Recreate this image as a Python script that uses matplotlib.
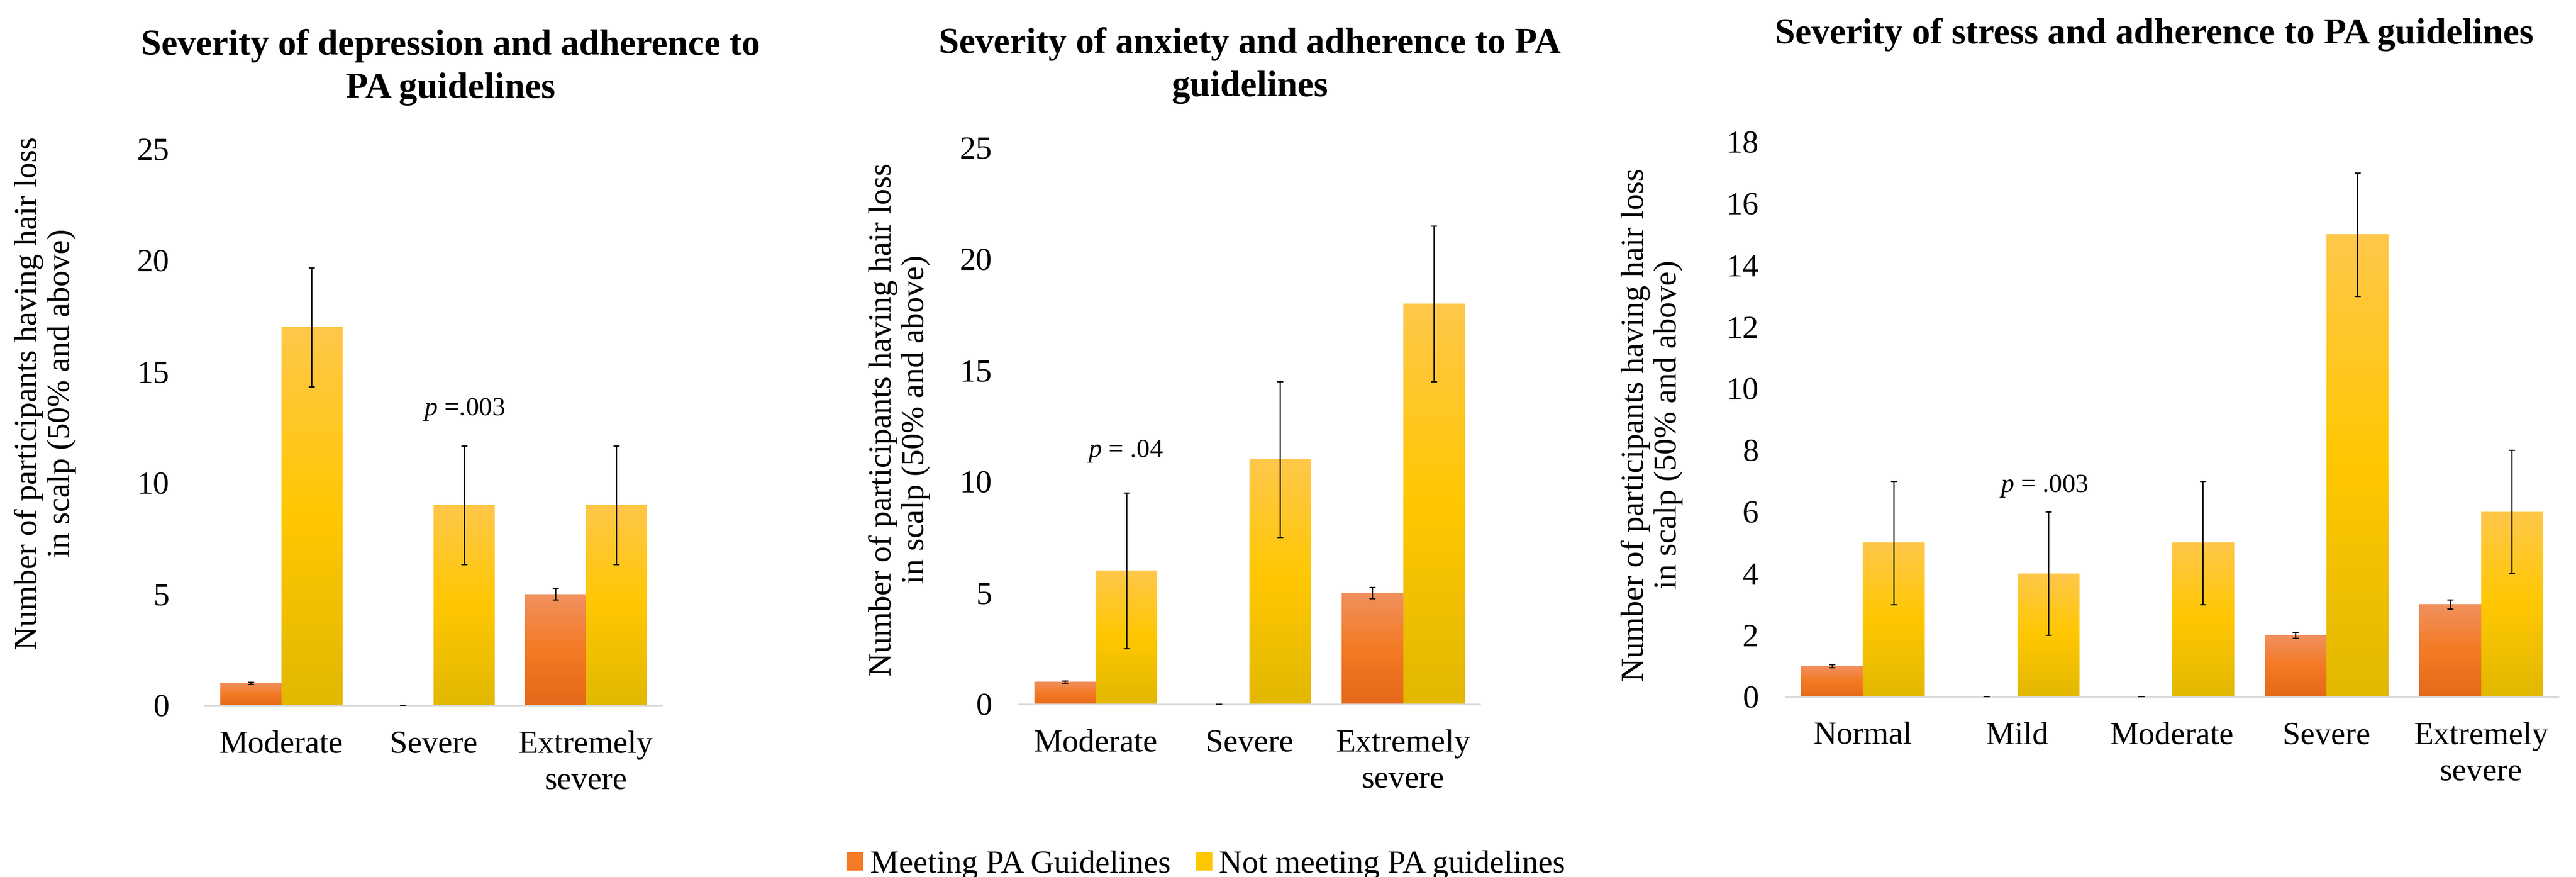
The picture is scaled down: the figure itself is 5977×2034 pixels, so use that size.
import numpy as np
import matplotlib
matplotlib.use("Agg")
import matplotlib.pyplot as plt
from matplotlib.colors import LinearSegmentedColormap
from matplotlib.patches import Patch

plt.rcParams['font.family'] = ['Liberation Serif', 'DejaVu Serif']
plt.rcParams['mathtext.fontset'] = 'custom'
plt.rcParams['mathtext.rm'] = 'Liberation Serif'
plt.rcParams['mathtext.it'] = 'Liberation Serif:italic'

# data
dep_cats = ['Moderate', 'Severe', 'Extremely\nsevere']
dep_meeting = [1, 0, 5]
dep_not = [17, 9, 9]
dep_meeting_err = [0.05, 0, 0.25]
dep_not_err = [2.67, 2.67, 2.67]

anx_cats = ['Moderate', 'Severe', 'Extremely\nsevere']
anx_meeting = [1, 0, 5]
anx_not = [6, 11, 18]
anx_meeting_err = [0.05, 0, 0.25]
anx_not_err = [3.5, 3.5, 3.5]

str_cats = ['Normal', 'Mild', 'Moderate', 'Severe', 'Extremely\nsevere']
str_meeting = [1, 0, 0, 2, 3]
str_not = [5, 4, 5, 15, 6]
str_meeting_err = [0.05, 0, 0, 0.1, 0.15]
str_not_err = [2, 2, 2, 2, 2]

series_labels = ['Meeting PA Guidelines', 'Not meeting PA guidelines']

orange_cmap = LinearSegmentedColormap.from_list('org', ['#F0915E', '#F47A24', '#E5691A'])
yellow_cmap = LinearSegmentedColormap.from_list('yel', ['#FFC84A', '#FFC700', '#E2B800'])

W, H = 5977, 2034
fig = plt.figure(figsize=(W / 100, H / 100), dpi=100)


def px_axes(x0, x1, y_top, y_bot):
    return fig.add_axes([x0 / W, 1 - y_bot / H, (x1 - x0) / W, (y_bot - y_top) / H])


def gradient_bars(ax, bars, cmap):
    grad = cmap(np.linspace(0, 1, 256))[:, None, :3]
    for b in bars:
        x, w, h = b.get_x(), b.get_width(), b.get_height()
        if h <= 0:
            continue
        ax.imshow(grad, extent=[x, x + w, 0, h], aspect='auto', zorder=2,
                  interpolation='bilinear')


def panel(ax, cats, meet, nmeet, meet_err, nmeet_err, ymax, ystep, ypad):
    x = np.arange(len(cats))
    bw = 0.4
    b1 = ax.bar(x - bw / 2, meet, bw, color='none', edgecolor='none')
    b2 = ax.bar(x + bw / 2, nmeet, bw, color='none', edgecolor='none')
    gradient_bars(ax, b1, orange_cmap)
    gradient_bars(ax, b2, yellow_cmap)
    ax.errorbar(x - bw / 2, meet, yerr=meet_err, fmt='none', ecolor='black',
                elinewidth=2, capsize=5, capthick=2, zorder=4)
    ax.errorbar(x + bw / 2, nmeet, yerr=nmeet_err, fmt='none', ecolor='black',
                elinewidth=2, capsize=5, capthick=2, zorder=4)
    ax.set_xlim(-0.5, len(cats) - 0.5)
    ax.set_ylim(0, ymax)
    ax.set_yticks(np.arange(0, ymax + 0.1, ystep))
    ax.set_xticks(x)
    ax.set_xticklabels(cats)
    for lbl in ax.get_xticklabels():
        lbl.set_linespacing(1.33)
    ax.tick_params(axis='both', length=0, labelsize=54)
    ax.tick_params(axis='y', pad=ypad)
    ax.tick_params(axis='x', pad=42)
    for s in ['top', 'right', 'left']:
        ax.spines[s].set_visible(False)
    ax.spines['bottom'].set_color('#D9D9D9')
    ax.spines['bottom'].set_linewidth(2.5)
    ax.spines['bottom'].set_zorder(3)


ax1 = px_axes(476, 1536, 346, 1636)
panel(ax1, dep_cats, dep_meeting, dep_not, dep_meeting_err, dep_not_err, 25, 5, 60)
ax1.text(1.2, 13.3, '$p$ =.003', fontsize=44, ha='center', va='center')

ax2 = px_axes(2364, 3434, 343, 1633)
panel(ax2, anx_cats, anx_meeting, anx_not, anx_meeting_err, anx_not_err, 25, 5, 45)
ax2.text(0.19, 11.36, '$p$ = .04', fontsize=44, ha='center', va='center')

ax3 = px_axes(4143, 5936, 329, 1616)
panel(ax3, str_cats, str_meeting, str_not, str_meeting_err, str_not_err, 18, 2, 45)
ax3.text(1.17, 6.83, '$p$ = .003', fontsize=44, ha='center', va='center')

ylab = 'Number of participants having hair loss\nin scalp (50% and above)'
for xc, yc in [(105, 912), (2087, 973), (3833, 985)]:
    fig.text(xc / W, 1 - yc / H, ylab, rotation=90, ha='center', va='center',
             fontsize=54, linespacing=1.17)

titles = [
    ('Severity of depression and adherence to\nPA guidelines', 1045, 156),
    ('Severity of anxiety and adherence to PA\nguidelines', 2900, 152),
    ('Severity of stress and adherence to PA guidelines', 4998, 80),
]
for t, xc, yc in titles:
    fig.text(xc / W, 1 - yc / H, t, ha='center', va='center', fontsize=61,
             fontweight='bold', linespacing=1.4)

handles = [Patch(facecolor='#F47A24'), Patch(facecolor='#FFC700')]
fig.legend(handles, series_labels, loc='center', bbox_to_anchor=(2798 / W, 1 - 2006 / H),
           ncol=2, frameon=False, fontsize=54, handlelength=0.52, handleheight=0.5,
           handletextpad=0.21, columnspacing=0.77)

fig.savefig('out.png', dpi=100)
